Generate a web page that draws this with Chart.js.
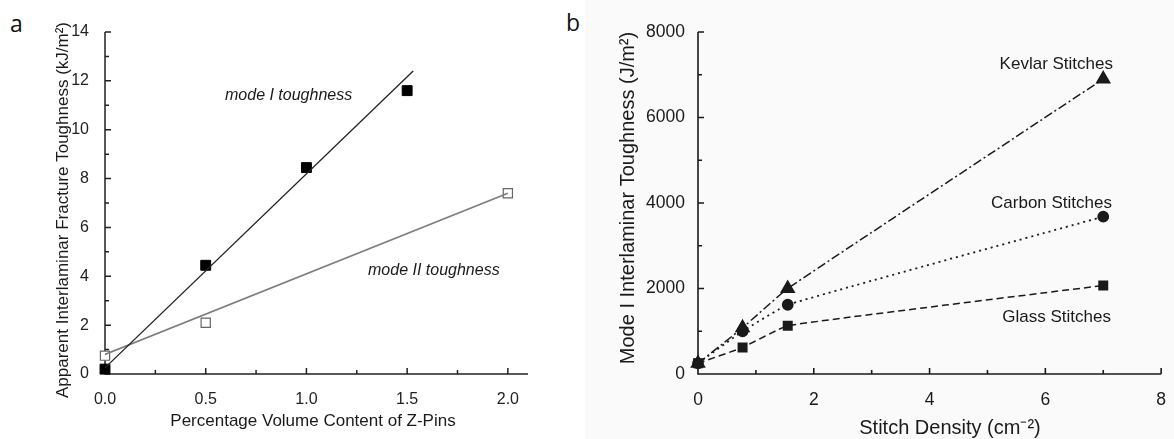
<!DOCTYPE html>
<html>
<head>
<meta charset="utf-8">
<script src="https://cdn.jsdelivr.net/npm/chart.js@4.4.0/dist/chart.umd.min.js"></script>
<style>
  html, body { margin: 0; padding: 0; background: #fff; }
  body { width: 1174px; height: 439px; position: relative; overflow: hidden; }
  .panel { position: absolute; top: 0; height: 439px; }
  #wrapA { left: 0; width: 560px; }
  #wrapB { left: 560px; width: 614px; }
  #scanB { position: absolute; left: 585px; top: 0; width: 589px; height: 439px; background: #fafafa; }
  .tag { position: absolute; font-family: "Open Sans", sans-serif; font-size: 23px; line-height: 1; color: #111; }
</style>
</head>
<body>
<div id="scanB"></div>
<div class="tag" style="left:10px; top:12px;">a</div>
<div class="tag" style="left:566px; top:11px;">b</div>
<div class="panel" id="wrapA"><canvas id="chartA" width="560" height="439"></canvas></div>
<div class="panel" id="wrapB"><canvas id="chartB" width="614" height="439"></canvas></div>

<script>
// ---- panel a : Z-pins ----
const pinModeIX = [0, 0.5, 1.0, 1.5];
const pinModeIY = [0.2, 4.45, 8.45, 11.6];
const pinModeIIX = [0, 0.5, 2.0];
const pinModeIIY = [0.75, 2.1, 7.4];
const modeIFitX = [0, 1.53];
const modeIFitY = [0.25, 12.4];
const modeIIFitX = [0, 2.0];
const modeIIFitY = [0.8, 7.4];
const aXTicks = [0, 0.5, 1.0, 1.5, 2.0];
const aXMinor = [0.25, 0.75, 1.25, 1.75];
const aYTicks = [0, 2, 4, 6, 8, 10, 12, 14];
const aYMinor = [1, 3, 5, 7, 9, 11, 13];

// ---- panel b : stitches ----
const stitchDensity = [0, 0.77, 1.55, 7];
const kevlarY = [250, 1080, 2000, 6900];
const carbonY = [250, 1000, 1620, 3680];
const glassY = [250, 620, 1130, 2070];
const bXTicks = [0, 2, 4, 6, 8];
const bXMinor = [1, 3, 5, 7];
const bYTicks = [0, 2000, 4000, 6000, 8000];
const bYMinor = [1000, 3000, 5000, 7000];

const pts = (xs, ys) => xs.map((x, i) => ({ x: x, y: ys[i] }));

// axes, inward ticks, titles and in-plot labels
const frame = {
  id: 'frame',
  beforeDatasetsDraw(chart, args, o) {
    const { ctx, chartArea: a, scales: { x, y } } = chart;
    ctx.save();
    ctx.strokeStyle = o.color;
    ctx.lineWidth = o.width;
    ctx.beginPath();
    ctx.moveTo(a.left, a.top);
    ctx.lineTo(a.left, a.bottom);
    ctx.lineTo(a.right, a.bottom);
    const tick = (list, len, horiz) => list.forEach(v => {
      if (horiz) {
        const px = x.getPixelForValue(v);
        ctx.moveTo(px, a.bottom); ctx.lineTo(px, a.bottom - len);
      } else {
        const py = y.getPixelForValue(v);
        ctx.moveTo(a.left, py); ctx.lineTo(a.left + len, py);
      }
    });
    tick(o.xMajor, o.major, true);
    tick(o.xMinor, o.minor, true);
    tick(o.yMajor, o.major, false);
    tick(o.yMinor, o.minor, false);
    ctx.stroke();
    ctx.restore();
  },
  afterDraw(chart, args, o) {
    const ctx = chart.ctx;
    ctx.save();
    ctx.fillStyle = '#1a1a1a';
    ctx.textBaseline = 'middle';
    ctx.textAlign = 'center';
    ctx.font = o.titleFont;
    ctx.fillText(o.xTitle, o.xTitlePos[0], o.xTitlePos[1]);
    ctx.save();
    ctx.translate(o.yTitlePos[0], o.yTitlePos[1]);
    ctx.rotate(-Math.PI / 2);
    ctx.fillText(o.yTitle, 0, 0);
    ctx.restore();
    o.notes.forEach(n => {
      ctx.font = n.font;
      ctx.textAlign = n.align || 'left';
      ctx.fillText(n.text, n.x, n.y);
    });
    ctx.restore();
  }
};

const fixTicks = list => scale => { scale.ticks = list.map(v => ({ value: v })); };

new Chart(document.getElementById('chartA'), {
  type: 'scatter',
  data: {
    datasets: [
      { data: pts(modeIFitX, modeIFitY), showLine: true, pointRadius: 0, borderColor: '#222', borderWidth: 1.3 },
      { data: pts(modeIIFitX, modeIIFitY), showLine: true, pointRadius: 0, borderColor: '#7d7d7d', borderWidth: 1.6 },
      { data: pts(pinModeIX, pinModeIY), pointStyle: 'rect', pointRadius: 7, backgroundColor: '#000', borderColor: '#000', borderWidth: 1, clip: false },
      { data: pts(pinModeIIX, pinModeIIY), pointStyle: 'rect', pointRadius: 6.5, backgroundColor: '#fff', borderColor: '#666', borderWidth: 1.2, clip: false }
    ]
  },
  options: {
    responsive: false,
    animation: false,
    events: [],
    layout: { padding: { left: 0, right: 32, top: 32, bottom: 0 } },
    plugins: {
      legend: { display: false },
      tooltip: { enabled: false },
      frame: {
        color: '#222', width: 1.5, major: 6, minor: 4,
        xMajor: aXTicks, xMinor: aXMinor, yMajor: aYTicks, yMinor: aYMinor,
        titleFont: '17px "Liberation Sans", Arial, sans-serif',
        xTitle: 'Percentage Volume Content of Z-Pins', xTitlePos: [313, 421],
        yTitle: 'Apparent Interlaminar Fracture Toughness (kJ/m\u00b2)', yTitlePos: [63, 210],
        notes: [
          { text: 'mode I toughness', x: 225, y: 96, font: 'italic 16px "Liberation Sans", Arial, sans-serif' },
          { text: 'mode II toughness', x: 368, y: 271, font: 'italic 16px "Liberation Sans", Arial, sans-serif' }
        ]
      }
    },
    scales: {
      x: {
        type: 'linear', min: 0, max: 2.1,
        afterBuildTicks: fixTicks(aXTicks),
        afterFit: s => { s.height = 65; },
        grid: { display: false }, border: { display: false },
        ticks: { padding: 8, color: '#222', font: { family: '"Liberation Sans", Arial, sans-serif', size: 16 }, callback: v => v.toFixed(1) }
      },
      y: {
        type: 'linear', min: 0, max: 14,
        afterBuildTicks: fixTicks(aYTicks),
        afterFit: s => { s.width = 105; },
        grid: { display: false }, border: { display: false },
        ticks: { padding: 8, color: '#222', font: { family: '"Liberation Sans", Arial, sans-serif', size: 16 }, callback: v => String(v) }
      }
    }
  },
  plugins: [frame]
});

new Chart(document.getElementById('chartB'), {
  type: 'scatter',
  data: {
    datasets: [
      { data: pts(stitchDensity, kevlarY), showLine: true, tension: 0.1, borderColor: '#1a1a1a', borderWidth: 1.5, borderDash: [9, 3, 2, 3],
        pointStyle: 'triangle', pointRadius: 7.5, backgroundColor: '#1a1a1a', pointBorderColor: '#1a1a1a', clip: false },
      { data: pts(stitchDensity, carbonY), showLine: true, tension: 0.1, borderColor: '#1a1a1a', borderWidth: 1.8, borderDash: [2, 4],
        pointStyle: 'circle', pointRadius: 5, backgroundColor: '#1a1a1a', pointBorderColor: '#1a1a1a', clip: false },
      { data: pts(stitchDensity, glassY), showLine: true, tension: 0.1, borderColor: '#1a1a1a', borderWidth: 1.5, borderDash: [7, 4],
        pointStyle: 'rect', pointRadius: 6, backgroundColor: '#1a1a1a', pointBorderColor: '#1a1a1a', clip: false }
    ]
  },
  options: {
    responsive: false,
    animation: false,
    events: [],
    layout: { padding: { left: 0, right: 9, top: 32, bottom: 0 } },
    plugins: {
      legend: { display: false },
      tooltip: { enabled: false },
      frame: {
        color: '#1a1a1a', width: 1.6, major: 6, minor: 4,
        xMajor: bXTicks, xMinor: bXMinor, yMajor: bYTicks, yMinor: bYMinor,
        titleFont: '20px "Liberation Sans", Arial, sans-serif',
        xTitle: 'Stitch Density (cm\u207b\u00b2)', xTitlePos: [390, 428],
        yTitle: 'Mode I Interlaminar Toughness (J/m\u00b2)', yTitlePos: [68, 198],
        notes: [
          { text: 'Kevlar Stitches', x: 553, y: 64, font: '17px "Liberation Sans", Arial, sans-serif', align: 'right' },
          { text: 'Carbon Stitches', x: 552, y: 203, font: '17px "Liberation Sans", Arial, sans-serif', align: 'right' },
          { text: 'Glass Stitches', x: 551, y: 317, font: '17px "Liberation Sans", Arial, sans-serif', align: 'right' }
        ]
      }
    },
    scales: {
      x: {
        type: 'linear', min: 0, max: 8,
        afterBuildTicks: fixTicks(bXTicks),
        afterFit: s => { s.height = 65; },
        grid: { display: false }, border: { display: false },
        ticks: { padding: 8, color: '#1a1a1a', font: { family: '"Liberation Sans", Arial, sans-serif', size: 17.5 }, callback: v => String(v) }
      },
      y: {
        type: 'linear', min: 0, max: 8000,
        afterBuildTicks: fixTicks(bYTicks),
        afterFit: s => { s.width = 138; },
        grid: { display: false }, border: { display: false },
        ticks: { padding: 5, color: '#1a1a1a', font: { family: '"Liberation Sans", Arial, sans-serif', size: 17.5 }, callback: v => String(v) }
      }
    }
  },
  plugins: [frame]
});
</script>
</body>
</html>
